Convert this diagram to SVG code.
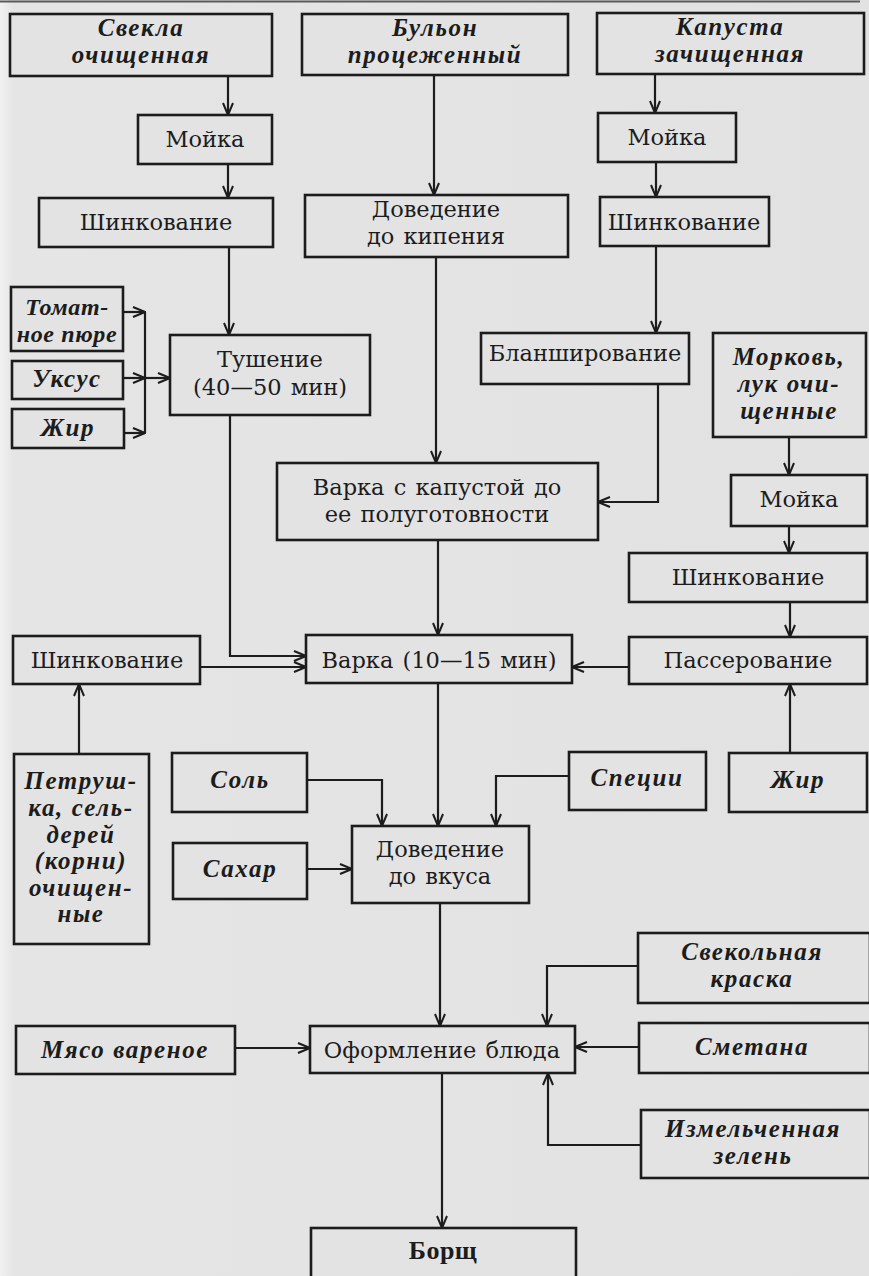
<svg xmlns="http://www.w3.org/2000/svg" width="869" height="1276" viewBox="0 0 869 1276">
  <defs>
    <linearGradient id="paper" x1="0" y1="0" x2="1" y2="0">
      <stop offset="0" stop-color="#f1f1f1"/>
      <stop offset="0.015" stop-color="#e5e5e5"/>
      <stop offset="1" stop-color="#e2e2e2"/>
    </linearGradient>
    <marker id="arr" viewBox="0 0 14 12" refX="13" refY="6" markerWidth="14" markerHeight="12" markerUnits="userSpaceOnUse" orient="auto">
      <path d="M1,1 L13,6 L1,11" fill="none" stroke="#1c1c1c" stroke-width="2"/>
    </marker>
    <style>
      .box { fill: #e3e3e3; stroke: #1c1c1c; stroke-width: 2.6; }
      .op { font-family: "DejaVu Serif", "Liberation Serif", serif; font-size: 22.5px; word-spacing: 2px; fill: #1c1c1c; text-anchor: middle; }
      .in { font-family: "Liberation Serif", "DejaVu Serif", serif; font-size: 25px; letter-spacing: 1.6px; font-style: italic; font-weight: bold; fill: #1c1c1c; text-anchor: middle; }
      .in.sm { font-size: 24px; letter-spacing: 0.6px; }
      .fin { font-family: "Liberation Serif", "DejaVu Serif", serif; font-size: 26px; font-weight: bold; letter-spacing: 0.5px; fill: #1c1c1c; text-anchor: middle; }
      .link { fill: none; stroke: #1c1c1c; stroke-width: 2.2; }
      .link.a { marker-end: url(#arr); }
    </style>
  </defs>

  <rect x="0" y="0" width="869" height="1276" fill="url(#paper)"/>
  <!-- page rule along the top edge -->
  <line x1="0" y1="1.5" x2="860" y2="1.5" stroke="#5a5a5a" stroke-width="2"/>

  <!-- connectors -->
  <g id="connectors">
    <polyline class="link a" points="228,76 228,115"/>
    <polyline class="link a" points="228,164 228,198"/>
    <polyline class="link a" points="229,247 229,335"/>
    <polyline class="link a" points="434,75 434,195"/>
    <polyline class="link a" points="436,257 436,463"/>
    <polyline class="link a" points="655,74 655,113"/>
    <polyline class="link a" points="656,162 656,197"/>
    <polyline class="link a" points="656,246 656,333"/>
    <polyline class="link a" points="658,384 658,502 598,502"/>
    <polyline class="link a" points="123,312 145,312"/>
    <polyline class="link a" points="123,378 145,378"/>
    <polyline class="link a" points="124,433 145,433"/>
    <polyline class="link" points="145,312 145,433"/>
    <polyline class="link a" points="145,378 170,378"/>
    <polyline class="link a" points="230,415 230,656 306,656"/>
    <polyline class="link a" points="438,540 438,635"/>
    <polyline class="link a" points="789,437 789,475"/>
    <polyline class="link a" points="789,526 789,553"/>
    <polyline class="link a" points="790,602 790,637"/>
    <polyline class="link a" points="790,753 790,684"/>
    <polyline class="link a" points="629,667 572,667"/>
    <polyline class="link a" points="200,667 306,667"/>
    <polyline class="link a" points="79,754 79,684"/>
    <polyline class="link a" points="438,683 438,826"/>
    <polyline class="link a" points="307,780 382,780 382,826"/>
    <polyline class="link a" points="569,776 496,776 496,826"/>
    <polyline class="link a" points="307,869 352,869"/>
    <polyline class="link a" points="440,903 440,1026"/>
    <polyline class="link a" points="235,1048 310,1048"/>
    <polyline class="link a" points="638,966 547,966 547,1026"/>
    <polyline class="link a" points="639,1047 575,1047"/>
    <polyline class="link a" points="641,1145 548,1145 548,1073"/>
    <polyline class="link a" points="442,1073 442,1228"/>
  </g>

  <!-- beet branch -->
  <g id="beet">
    <rect class="box" x="10" y="14" width="262" height="62"/>
    <text class="in" x="141" y="36">Свекла</text>
    <text class="in" x="141" y="63">очищенная</text>
  </g>
  <g id="beet-wash">
    <rect class="box" x="138" y="115" width="134" height="49"/>
    <text class="op" x="205" y="147">Мойка</text>
  </g>
  <g id="beet-shred">
    <rect class="box" x="39" y="198" width="234" height="49"/>
    <text class="op" x="156" y="230">Шинкование</text>
  </g>
  <g id="tomato">
    <rect class="box" x="11" y="287" width="112" height="64"/>
    <text class="in sm" x="67" y="315">Томат-</text>
    <text class="in sm" x="67" y="342">ное пюре</text>
  </g>
  <g id="vinegar">
    <rect class="box" x="12" y="361" width="111" height="38"/>
    <text class="in" x="67" y="387">Уксус</text>
  </g>
  <g id="fat-1">
    <rect class="box" x="12" y="409" width="112" height="39"/>
    <text class="in" x="68" y="436">Жир</text>
  </g>
  <g id="stew">
    <rect class="box" x="170" y="335" width="200" height="80"/>
    <text class="op" x="270" y="367">Тушение</text>
    <text class="op" x="270" y="395">(40—50 мин)</text>
  </g>

  <!-- broth branch -->
  <g id="broth">
    <rect class="box" x="302" y="14" width="266" height="61"/>
    <text class="in" x="435" y="36">Бульон</text>
    <text class="in" x="435" y="63">процеженный</text>
  </g>
  <g id="boil">
    <rect class="box" x="305" y="195" width="263" height="62"/>
    <text class="op" x="436" y="217">Доведение</text>
    <text class="op" x="436" y="244">до кипения</text>
  </g>

  <!-- cabbage branch -->
  <g id="cabbage">
    <rect class="box" x="597" y="13" width="267" height="61"/>
    <text class="in" x="730" y="35">Капуста</text>
    <text class="in" x="730" y="62">зачищенная</text>
  </g>
  <g id="cabbage-wash">
    <rect class="box" x="598" y="113" width="138" height="49"/>
    <text class="op" x="667" y="145">Мойка</text>
  </g>
  <g id="cabbage-shred">
    <rect class="box" x="600" y="197" width="169" height="49"/>
    <text class="op" x="684" y="230">Шинкование</text>
  </g>
  <g id="blanch">
    <rect class="box" x="481" y="333" width="208" height="51"/>
    <text class="op" x="585" y="361">Бланширование</text>
  </g>
  <g id="cook-cabbage">
    <rect class="box" x="277" y="463" width="321" height="77"/>
    <text class="op" x="437" y="495">Варка с капустой до</text>
    <text class="op" x="437" y="522">ее полуготовности</text>
  </g>

  <!-- carrot and onion branch -->
  <g id="carrot-onion">
    <rect class="box" x="713" y="333" width="153" height="104"/>
    <text class="in" x="789" y="365">Морковь,</text>
    <text class="in" x="789" y="392">лук очи-</text>
    <text class="in" x="789" y="419">щенные</text>
  </g>
  <g id="carrot-wash">
    <rect class="box" x="731" y="475" width="136" height="51"/>
    <text class="op" x="799" y="507">Мойка</text>
  </g>
  <g id="carrot-shred">
    <rect class="box" x="629" y="553" width="238" height="49"/>
    <text class="op" x="748" y="585">Шинкование</text>
  </g>
  <g id="saute">
    <rect class="box" x="629" y="637" width="238" height="47"/>
    <text class="op" x="748" y="668">Пассерование</text>
  </g>
  <g id="fat-2">
    <rect class="box" x="729" y="753" width="138" height="59"/>
    <text class="in" x="798" y="788">Жир</text>
  </g>

  <!-- roots branch -->
  <g id="roots-shred">
    <rect class="box" x="13" y="636" width="187" height="48"/>
    <text class="op" x="107" y="668">Шинкование</text>
  </g>
  <g id="roots">
    <rect class="box" x="14" y="754" width="135" height="190"/>
    <text class="in" x="81" y="789">Петруш-</text>
    <text class="in" x="81" y="816">ка, сель-</text>
    <text class="in" x="81" y="843">дерей</text>
    <text class="in" x="81" y="869">(корни)</text>
    <text class="in" x="81" y="896">очищен-</text>
    <text class="in" x="81" y="922">ные</text>
  </g>

  <!-- main line -->
  <g id="cook">
    <rect class="box" x="306" y="635" width="266" height="48"/>
    <text class="op" x="439" y="668">Варка (10—15 мин)</text>
  </g>
  <g id="salt">
    <rect class="box" x="172" y="753" width="135" height="59"/>
    <text class="in" x="240" y="788">Соль</text>
  </g>
  <g id="spices">
    <rect class="box" x="569" y="752" width="137" height="58"/>
    <text class="in" x="637" y="786">Специи</text>
  </g>
  <g id="sugar">
    <rect class="box" x="173" y="843" width="134" height="56"/>
    <text class="in" x="240" y="877">Сахар</text>
  </g>
  <g id="season">
    <rect class="box" x="352" y="826" width="177" height="77"/>
    <text class="op" x="440" y="857">Доведение</text>
    <text class="op" x="440" y="884">до вкуса</text>
  </g>
  <g id="meat">
    <rect class="box" x="16" y="1026" width="219" height="48"/>
    <text class="in" x="125" y="1058">Мясо вареное</text>
  </g>
  <g id="plating">
    <rect class="box" x="310" y="1026" width="265" height="47"/>
    <text class="op" x="442" y="1058">Оформление блюда</text>
  </g>
  <g id="beet-color">
    <rect class="box" x="638" y="933" width="232" height="70"/>
    <text class="in" x="752" y="960">Свекольная</text>
    <text class="in" x="752" y="987">краска</text>
  </g>
  <g id="sour-cream">
    <rect class="box" x="639" y="1023" width="231" height="50"/>
    <text class="in" x="752" y="1055">Сметана</text>
  </g>
  <g id="greens">
    <rect class="box" x="641" y="1110" width="229" height="68"/>
    <text class="in" x="753" y="1137">Измельченная</text>
    <text class="in" x="753" y="1164">зелень</text>
  </g>
  <g id="borscht">
    <rect class="box" x="311" y="1228" width="265" height="50"/>
    <text class="fin" x="443" y="1259">Борщ</text>
  </g>
</svg>
